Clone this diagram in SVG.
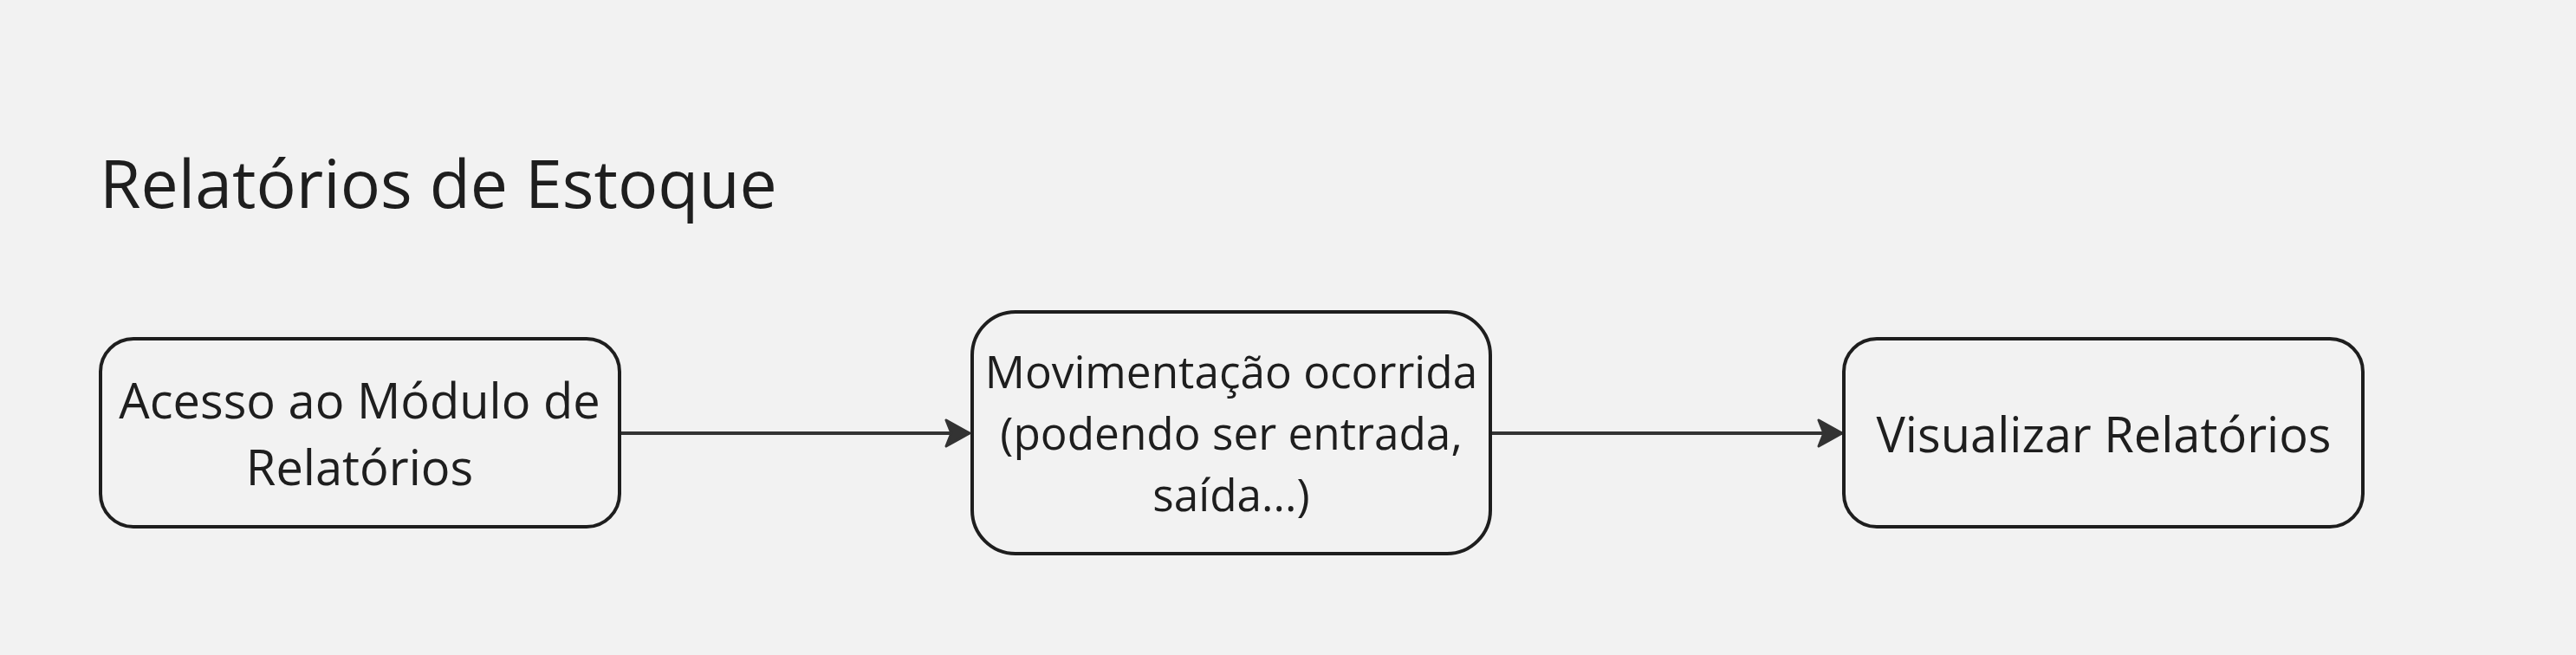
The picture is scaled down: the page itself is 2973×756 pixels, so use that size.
<svg xmlns="http://www.w3.org/2000/svg" width="2973" height="756" viewBox="0 0 2973 756">
<defs>
<style>
.bg{fill:#f2f2f2}
.node{fill:#f2f2f2;stroke:#1e1e1e;stroke-width:4}
.lbl{font-family:"Open Sans","Noto Sans","DejaVu Sans",sans-serif;font-size:56px;fill:#1e1e1e;text-anchor:middle}
.lbl2{font-size:51.3px}
.title{font-family:"Open Sans","Noto Sans","DejaVu Sans",sans-serif;font-size:77px;fill:#1e1e1e}
.edge{stroke:#333333;stroke-width:4;fill:none}
</style>
<marker id="arr" markerUnits="userSpaceOnUse" markerWidth="32" markerHeight="36" viewBox="0 0 32 36" refX="30" refY="18" orient="auto">
<path d="M3,3 L30,18 L3,33 L9,18 Z" fill="#333333" stroke="#333333" stroke-width="3" stroke-linejoin="round"/>
</marker>
</defs>
<rect class="bg" x="0" y="0" width="2973" height="756"/>
<text class="title" x="115" y="240">Relatórios de Estoque</text>
<g id="connectors">
<path class="edge" d="M716,500 L1119,500" marker-end="url(#arr)"/>
<path class="edge" d="M1720,500 L2126,500" marker-end="url(#arr)"/>
</g>
<g id="node1">
<rect class="node" x="116" y="391" width="599" height="217" rx="38" ry="38"/>
<text class="lbl" x="415" y="483">Acesso ao Módulo de</text>
<text class="lbl" x="415" y="560">Relatórios</text>
</g>
<g id="node2">
<rect class="node" x="1122" y="360" width="598" height="279" rx="50" ry="50"/>
<text class="lbl lbl2" x="1421" y="448">Movimentação ocorrida</text>
<text class="lbl lbl2" x="1421" y="519">(podendo ser entrada,</text>
<text class="lbl lbl2" x="1421" y="590">saída...)</text>
</g>
<g id="node3">
<rect class="node" x="2128" y="391" width="599" height="217" rx="38" ry="38"/>
<text class="lbl" x="2428" y="522">Visualizar Relatórios</text>
</g>
</svg>
